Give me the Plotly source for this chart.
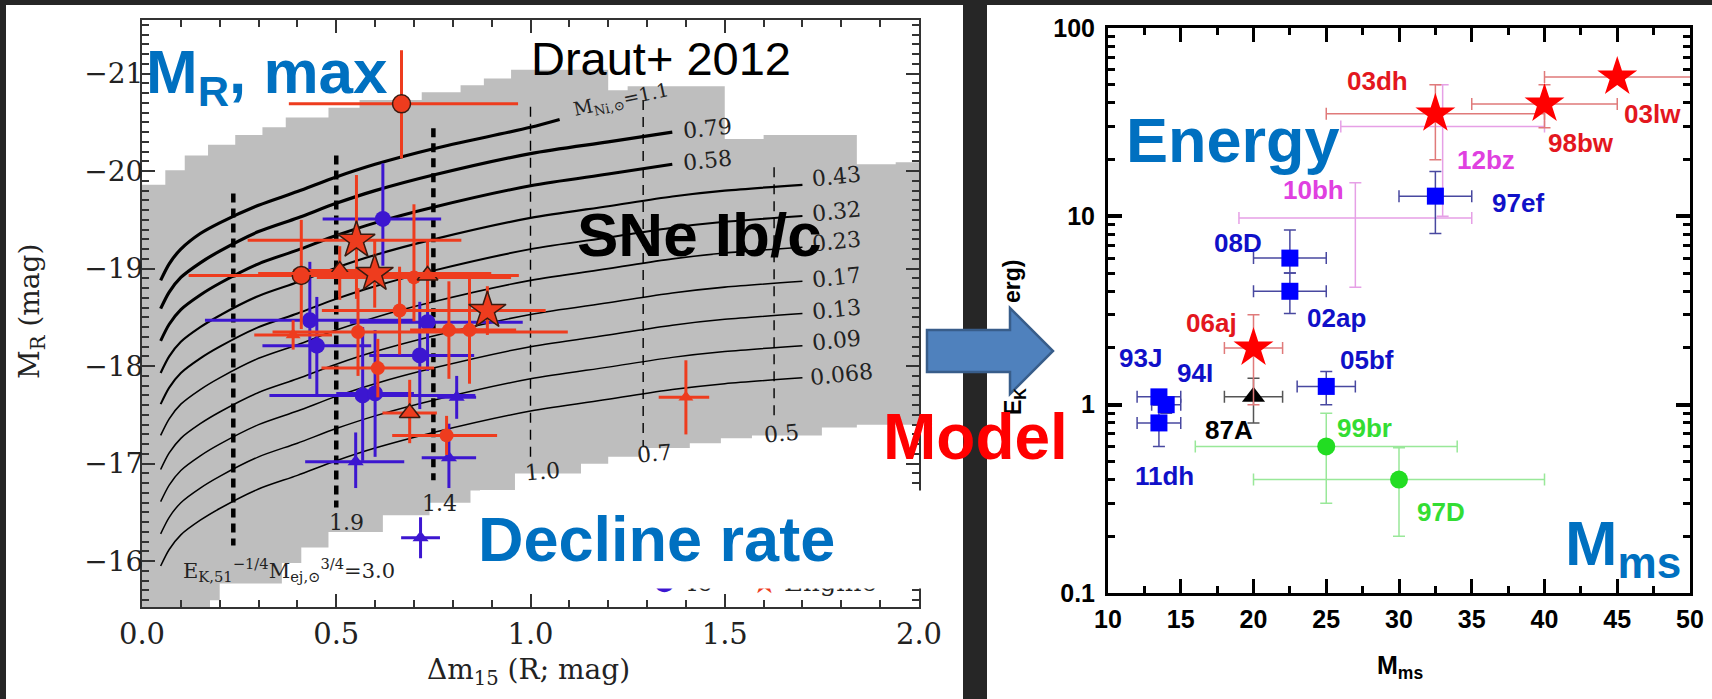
import numpy as np
import plotly.graph_objects as go

W, H = 1712, 699
SERIF = "DejaVu Serif"
SANS = "Liberation Sans"


def px(x):
    return x / W


def py(y):
    return 1 - y / H


# ================= LEFT PANEL : M_R,max vs decline rate =================
# grey allowed region (staircase edges)
grey_top_x = [0.00, 0.06, 0.11, 0.17, 0.24, 0.31, 0.37, 0.48, 0.56, 0.72, 0.82, 0.88, 0.95, 1.20, 1.25, 1.50, 1.60, 1.84, 1.94]
grey_top_y = [-19.86, -20.01, -20.16, -20.27, -20.37, -20.45, -20.55, -20.65, -20.73, -20.81, -20.88, -20.95, -21.04, -20.83, -20.87, -20.33, -20.37, -20.07, -20.09]
grey_bot_x = [0.00, 0.175, 0.20, 0.36, 0.41, 0.48, 0.62, 0.74, 0.87, 0.96, 1.13, 1.20, 1.28, 1.41, 1.49, 1.57, 1.75, 1.84]
grey_bot_y = [-15.45, -15.60, -15.77, -15.98, -16.14, -16.30, -16.47, -16.60, -16.73, -16.90, -17.00, -17.07, -17.16, -17.21, -17.26, -17.29, -17.37, -17.40]

# Ni-mass model curves
ni_labels = ["1.1", "0.79", "0.58", "0.43", "0.32", "0.23", "0.17", "0.13", "0.09", "0.068"]
curve_x_full = [0.048, 0.07, 0.10, 0.15, 0.20, 0.30, 0.40, 0.50, 0.60, 0.75, 1.00, 1.20, 1.365, 1.50, 1.70]
curve_x_mid = [0.048, 0.07, 0.10, 0.15, 0.20, 0.30, 0.40, 0.50, 0.60, 0.75, 1.00, 1.20, 1.365]
curve_x_short = [0.048, 0.07, 0.10, 0.15, 0.20, 0.30, 0.40, 0.50, 0.60, 0.75, 1.00, 1.075]
ni_1_10 = [-18.88, -19.05, -19.20, -19.36, -19.47, -19.65, -19.79, -19.94, -20.07, -20.23, -20.45, -20.53]
ni_0_79 = [-18.59, -18.76, -18.91, -19.06, -19.18, -19.38, -19.52, -19.67, -19.80, -19.96, -20.18, -20.30, -20.40]
ni_0_58 = [-18.26, -18.43, -18.58, -18.73, -18.85, -19.05, -19.19, -19.34, -19.47, -19.63, -19.85, -19.97, -20.07]
ni_0_43 = [-17.93, -18.10, -18.25, -18.40, -18.52, -18.72, -18.86, -19.01, -19.14, -19.30, -19.52, -19.64, -19.74, -19.80, -19.86]
ni_0_32 = [-17.61, -17.78, -17.93, -18.08, -18.20, -18.40, -18.54, -18.69, -18.82, -18.98, -19.20, -19.32, -19.42, -19.48, -19.54]
ni_0_23 = [-17.29, -17.46, -17.61, -17.76, -17.88, -18.08, -18.22, -18.37, -18.50, -18.66, -18.88, -19.00, -19.10, -19.16, -19.22]
ni_0_17 = [-16.94, -17.11, -17.26, -17.41, -17.53, -17.73, -17.87, -18.02, -18.15, -18.31, -18.53, -18.65, -18.75, -18.81, -18.87]
ni_0_13 = [-16.61, -16.78, -16.93, -17.08, -17.20, -17.40, -17.54, -17.69, -17.82, -17.98, -18.20, -18.32, -18.42, -18.48, -18.54]
ni_0_09 = [-16.28, -16.45, -16.60, -16.75, -16.87, -17.07, -17.21, -17.36, -17.49, -17.65, -17.87, -17.99, -18.09, -18.15, -18.21]
ni_0_068 = [-15.95, -16.12, -16.27, -16.42, -16.54, -16.74, -16.88, -17.03, -17.16, -17.32, -17.54, -17.66, -17.76, -17.82, -17.88]
ni_label_x = [1.234, 1.455, 1.455, 1.787, 1.787, 1.787, 1.787, 1.787, 1.787, 1.80]
ni_label_y = [-20.72, -20.44, -20.11, -19.94, -19.59, -19.28, -18.91, -18.58, -18.26, -17.91]

# E_K^-1/4 M_ej^3/4 iso-lines (dashed)
ek_labels = ["3.0", "1.9", "1.4", "1.0", "0.7", "0.5"]
ek_x = [0.235, 0.50, 0.75, 1.00, 1.29, 1.627]
ek_top = [-19.77, -20.16, -20.44, -20.66, -20.73, -20.04]
ek_bot = [-16.16, -16.55, -16.83, -17.02, -17.17, -17.47]
ek_label_x = [0.378, 0.527, 0.766, 1.03, 1.32, 1.645]
ek_label_y = [-15.91, -16.40, -16.59, -16.92, -17.10, -17.31]

# observed SNe (red = Ic-BL/engine, blue = Ib/Ic)
rc_x = [0.668, 0.41]
rc_y = [-20.69, -18.93]
rc_xm = [0.29, 0.29]
rc_xp = [0.30, 0.56]
rc_ym = [0.55, 0.57]
rc_yp = [0.56, 0.55]

rs_x = [0.552, 0.599, 0.889]
rs_y = [-19.29, -18.95, -18.57]
rs_xm = [0.28, 0.30, 0.15]
rs_xp = [0.27, 0.30, 0.15]
rs_ym = [0.67, 0.35, 0.25]
rs_yp = [0.60, 0.35, 0.25]

rt_x = [0.509, 0.735, 0.689]
rt_y = [-18.98, -18.93, -17.52]
rt_xm = [0.12, 0.20, 0.07]
rt_xp = [0.12, 0.23, 0.07]
rt_ym = [0.25, 0.36, 0.34]
rt_yp = [0.30, 0.36, 0.31]

rsc_x = [0.70, 0.663, 0.556, 0.79, 0.843, 0.607, 0.784]
rsc_y = [-18.91, -18.57, -18.35, -18.37, -18.37, -17.98, -17.29]
rsc_xm = [0.25, 0.20, 0.22, 0.10, 0.12, 0.145, 0.14]
rsc_xp = [0.25, 0.20, 0.54, 0.10, 0.12, 0.145, 0.13]
rsc_ym = [0.75, 0.45, 0.45, 0.50, 0.55, 0.30, 0.20]
rsc_yp = [0.45, 0.45, 0.45, 0.50, 0.55, 0.30, 0.20]

rst_x = [0.389, 1.40]
rst_y = [-18.32, -17.68]
rst_xm = [0.10, 0.07]
rst_xp = [0.10, 0.06]
rst_ym = [0.15, 0.38]
rst_yp = [0.15, 0.38]

bc_x = [0.62, 0.432, 0.735, 0.45, 0.715, 0.568, 0.60]
bc_y = [-19.51, -18.47, -18.45, -18.21, -18.11, -17.70, -17.72]
bc_xm = [0.155, 0.27, 0.20, 0.14, 0.13, 0.24, 0.10]
bc_xp = [0.15, 0.27, 0.245, 0.14, 0.14, 0.29, 0.10]
bc_ym = [0.57, 0.60, 0.50, 0.50, 0.55, 0.70, 0.65]
bc_yp = [0.48, 0.60, 0.50, 0.50, 0.55, 0.67, 0.65]

bt_x = [0.81, 0.55, 0.79, 0.717]
bt_y = [-17.68, -17.02, -17.06, -16.24]
bt_xm = [0.05, 0.13, 0.07, 0.05]
bt_xp = [0.05, 0.125, 0.07, 0.05]
bt_ym = [0.22, 0.30, 0.35, 0.21]
bt_yp = [0.22, 0.27, 0.31, 0.21]

# ================= RIGHT PANEL : E_K vs M_ms =================
rstar_names = ["03dh", "98bw", "03lw", "06aj"]
rstar_m = [32.5, 40.0, 45.0, 20.0]
rstar_e = [35.0, 39.5, 55.0, 2.0]
rstar_m_lo = [7.5, 5.0, 5.0, 2.0]
rstar_m_hi = [7.5, 5.0, 10.0, 2.0]
rstar_e_lo = [15.0, 10.0, 0.0, 1.0]
rstar_e_hi = [15.0, 10.5, 0.0, 1.0]

ostar_names = ["12bz", "10bh"]
ostar_m = [33.0, 27.0]
ostar_e = [30.0, 9.8]
ostar_m_lo = [7.0, 8.0]
ostar_m_hi = [7.0, 8.0]
ostar_e_lo = [20.0, 5.6]
ostar_e_hi = [20.0, 5.3]

bsq_names = ["97ef", "08D", "02ap", "05bf", "93J", "94I", "11dh"]
bsq_m = [32.5, 22.5, 22.5, 25.0, 13.5, 14.0, 13.5]
bsq_e = [12.8, 6.0, 4.0, 1.25, 1.1, 1.0, 0.8]
bsq_m_lo = [2.5, 2.5, 2.5, 2.0, 1.5, 1.0, 1.5]
bsq_m_hi = [2.5, 2.5, 2.5, 2.0, 1.5, 1.0, 1.5]
bsq_e_lo = [4.7, 1.0, 0.95, 0.25, 0.1, 0.1, 0.2]
bsq_e_hi = [4.5, 2.45, 1.0, 0.25, 0.1, 0.1, 0.2]

btri_names = ["87A"]
btri_m = [20.0]
btri_e = [1.1]
btri_m_err = [2.0]
btri_e_lo = [0.30]
btri_e_hi = [0.28]

gc_names = ["99br", "97D"]
gc_m = [25.0, 30.0]
gc_e = [0.6, 0.4]
gc_m_err = [9.0, 10.0]
gc_e_lo = [0.30, 0.20]
gc_e_hi = [0.30, 0.19]

lab_names = ["03dh", "12bz", "98bw", "03lw", "97ef", "10bh", "08D", "02ap", "06aj", "87A", "05bf", "93J", "94I", "11dh", "99br", "97D"]
lab_m = [28.5, 36.0, 42.5, 47.4, 38.2, 24.1, 18.9, 25.7, 17.1, 18.3, 27.8, 12.2, 16.0, 13.9, 27.6, 32.9]
lab_e = [52.0, 20.0, 24.5, 35.0, 11.7, 13.8, 7.2, 2.87, 2.7, 0.73, 1.73, 1.76, 1.47, 0.42, 0.75, 0.27]
RED_T, BLU_T, MAG_T, GRN_T = "#E3171E", "#1010C8", "#E040E0", "#33DD33"
lab_col = [RED_T, MAG_T, RED_T, RED_T, BLU_T, MAG_T, BLU_T, BLU_T, RED_T, "black", BLU_T, BLU_T, BLU_T, BLU_T, GRN_T, GRN_T]

# ================= FIGURE =================
RED = "#EE3C1E"
BLUE = "#3C16D0"
fig = go.Figure()

# grey region polygon
poly_x, poly_y = [], []
for i in range(len(grey_top_x)):
    x1 = grey_top_x[i + 1] if i + 1 < len(grey_top_x) else 2.0
    poly_x += [grey_top_x[i], x1]
    poly_y += [grey_top_y[i], grey_top_y[i]]
for i in reversed(range(len(grey_bot_x))):
    x1 = grey_bot_x[i + 1] if i + 1 < len(grey_bot_x) else 2.0
    poly_x += [x1, grey_bot_x[i]]
    poly_y += [grey_bot_y[i], grey_bot_y[i]]
fig.add_trace(go.Scatter(x=poly_x, y=poly_y, fill="toself", fillcolor="#BEBEBE", mode="lines",
                         line=dict(width=0, color="#BEBEBE"), hoverinfo="skip", xaxis="x", yaxis="y"))

curves = [(curve_x_short, ni_1_10, 3.2), (curve_x_mid, ni_0_79, 3.2), (curve_x_mid, ni_0_58, 3.0),
          (curve_x_full, ni_0_43, 2.2), (curve_x_full, ni_0_32, 2.0), (curve_x_full, ni_0_23, 1.6),
          (curve_x_full, ni_0_17, 1.6), (curve_x_full, ni_0_13, 1.5), (curve_x_full, ni_0_09, 1.5),
          (curve_x_full, ni_0_068, 1.5)]
for cx, cy, lw in curves:
    fig.add_trace(go.Scatter(x=cx, y=cy, mode="lines", line=dict(color="black", width=lw, shape="spline", smoothing=0.8),
                             hoverinfo="skip", xaxis="x", yaxis="y"))

for i in range(len(ek_x)):
    thick = i < 3
    fig.add_trace(go.Scatter(x=[ek_x[i], ek_x[i]], y=[ek_top[i], ek_bot[i]], mode="lines",
                             line=dict(color="black", width=4.5 if thick else 1.4, dash="9px,6px" if thick else "10px,7px"),
                             hoverinfo="skip", xaxis="x", yaxis="y"))


def left_pts(x, y, xm, xp, ym, yp, color, symbol, size, edge=None):
    fig.add_trace(go.Scatter(
        x=x, y=y, mode="markers", xaxis="x", yaxis="y",
        marker=dict(color=color, symbol=symbol, size=size,
                    line=dict(color=edge if edge else color, width=1.5 if edge else 0)),
        error_x=dict(type="data", symmetric=False, array=xp, arrayminus=xm, color=color, thickness=3, width=0),
        error_y=dict(type="data", symmetric=False, array=yp, arrayminus=ym, color=color, thickness=3, width=0)))


left_pts(bc_x, bc_y, bc_xm, bc_xp, bc_ym, bc_yp, BLUE, "circle", 16)
left_pts(bt_x, bt_y, bt_xm, bt_xp, bt_ym, bt_yp, BLUE, "triangle-up", 14)
left_pts(rsc_x, rsc_y, rsc_xm, rsc_xp, rsc_ym, rsc_yp, RED, "circle", 14)
left_pts(rst_x, rst_y, rst_xm, rst_xp, rst_ym, rst_yp, RED, "triangle-up", 13)
left_pts(rt_x, rt_y, rt_xm, rt_xp, rt_ym, rt_yp, RED, "triangle-up", 18, edge="#3a1a10")
left_pts(rc_x, rc_y, rc_xm, rc_xp, rc_ym, rc_yp, RED, "circle", 18, edge="#3a1a10")
left_pts(rs_x, rs_y, rs_xm, rs_xp, rs_ym, rs_yp, RED, "star", 28, edge="#3a1a10")


def right_pts(m, e, mlo, mhi, elo, ehi, color, errcol, symbol, size, lw=0):
    fig.add_trace(go.Scatter(
        x=m, y=e, mode="markers", xaxis="x2", yaxis="y2",
        marker=dict(color=color if lw == 0 else "rgba(0,0,0,0)", symbol=symbol, size=size,
                    line=dict(color=color, width=lw)),
        error_x=dict(type="data", symmetric=False, array=mhi, arrayminus=mlo, color=errcol, thickness=1.5, width=6),
        error_y=dict(type="data", symmetric=False, array=ehi, arrayminus=elo, color=errcol, thickness=1.5, width=6)))


right_pts(gc_m, gc_e, gc_m_err, gc_m_err, gc_e_lo, gc_e_hi, "#22DD22", "#99E899", "circle", 18)
right_pts(ostar_m, ostar_e, ostar_m_lo, ostar_m_hi, ostar_e_lo, ostar_e_hi, "#D438D4", "#E6A0E6", "star-open", 30, lw=2.5)
right_pts(bsq_m, bsq_e, bsq_m_lo, bsq_m_hi, bsq_e_lo, bsq_e_hi, "#0000FF", "#4848A0", "square", 17)
right_pts(btri_m, btri_e, btri_m_err, btri_m_err, btri_e_lo, btri_e_hi, "black", "#555555", "triangle-up", 20)
right_pts(rstar_m, rstar_e, rstar_m_lo, rstar_m_hi, rstar_e_lo, rstar_e_hi, "#FF0000", "#E07A7A", "star", 30)

# ---------------- annotations ----------------
ann = []


def txt(text, x, y, size, color="black", family=SANS, angle=0, xanchor="center", yanchor="middle",
        xref="paper", yref="paper", **kw):
    d = dict(text=text, x=x, y=y, xref=xref, yref=yref, showarrow=False, textangle=angle,
             xanchor=xanchor, yanchor=yanchor, font=dict(family=family, size=size, color=color))
    d.update(kw)
    ann.append(d)


# legend fragments hidden behind the "Decline rate" box
txt("●", px(664), py(580), 26, BLUE, SERIF)
txt("Ic", px(699), py(582), 26, "#222", SERIF)
txt("★", px(764), py(582), 30, RED, SERIF)
txt("Engine", px(830), py(582), 26, "#222", SERIF)
# white box
txt(".", px(470), py(490), 2, "white", xanchor="left", yanchor="top", width=460, height=97,
    bgcolor="white", borderpad=0)

# left-panel curve labels
for i, lab in enumerate(ni_labels):
    if i == 0:
        txt("M<sub>Ni,⊙</sub>=1.1", ni_label_x[i], ni_label_y[i], 19, "#222", SERIF, angle=-12, xref="x", yref="y")
    else:
        txt(lab, ni_label_x[i], ni_label_y[i], 22, "#222", SERIF, angle=-6, xref="x", yref="y")
for i, lab in enumerate(ek_labels):
    if i == 0:
        txt("E<sub>K,51</sub><sup>−1/4</sup>M<sub>ej,⊙</sub><sup>3/4</sup>=3.0", ek_label_x[i], ek_label_y[i], 21,
            "#222", SERIF, xref="x", yref="y")
    else:
        txt(lab, ek_label_x[i], ek_label_y[i], 22, "#222", SERIF, angle=(-5 if i >= 3 else 0), xref="x", yref="y")

# left axis titles
txt("M<sub>R</sub> (mag)", px(31), py(312), 28, "#222", SERIF, angle=-90)
txt("Δm<sub>15</sub> (R; mag)", px(528), py(671), 28, "#222", SERIF)

# right panel labels
for n, m, e, c in zip(lab_names, lab_m, lab_e, lab_col):
    txt("<b>" + n + "</b>", m, float(np.log10(e)), 26, c, SANS, xref="x2", yref="y2")

txt("<b>erg)</b>", px(1012), py(282), 23, "black", SANS, angle=-90)
txt("<b>E<sub>K</sub></b>", px(1014), py(402), 23, "black", SANS, angle=-90)
txt("<b>M<sub>ms</sub></b>", px(1400), py(667), 25, "black", SANS)

# big slide texts
BLUE_T = "#0070C0"
txt("<b>M<sub>R</sub>, max</b>", px(267), py(76), 62, BLUE_T)
txt("Draut+ 2012", px(661), py(58), 47, "black")
txt("<b>SNe Ib/c</b>", px(699), py(234), 62, "black")
txt("<b>Decline rate</b>", px(656), py(539), 63, BLUE_T)
txt("<b>Energy</b>", px(1233), py(140), 63, BLUE_T)
txt("<b>Model</b>", px(975), py(437), 64, "#FF0000")
txt("<b>M<sub>ms</sub></b>", px(1623), py(547), 63, BLUE_T)

# ---------------- shapes ----------------
arrow_pts = [(927, 330), (1010, 330), (1010, 308), (1053, 351), (1010, 394), (1010, 372), (927, 372)]
arrow_path = "M " + " L ".join(f"{px(a):.5f},{py(b):.5f}" for a, b in arrow_pts) + " Z"
shapes = [
    dict(type="rect", xref="paper", yref="paper", x0=px(6), x1=px(963), y0=0, y1=py(5),
         fillcolor="white", line=dict(width=0), layer="below"),
    dict(type="rect", xref="paper", yref="paper", x0=px(987), x1=1, y0=0, y1=py(5),
         fillcolor="white", line=dict(width=0), layer="below"),
    dict(type="path", xref="paper", yref="paper", path=arrow_path, fillcolor="#4F81BD",
         line=dict(color="#385D8A", width=2.5), layer="above"),
]

log_minor = [k * 10.0 ** p for p in (-1, 0, 1) for k in range(2, 10)]

fig.update_layout(
    width=W, height=H, autosize=False, margin=dict(l=0, r=0, t=0, b=0, pad=0),
    paper_bgcolor="#262626", plot_bgcolor="white", showlegend=False,
    xaxis=dict(domain=[px(142), px(919)], range=[0, 2], anchor="y", automargin=False,
               tickmode="array", tickvals=[0, 0.5, 1.0, 1.5, 2.0], ticktext=["0.0", "0.5", "1.0", "1.5", "2.0"],
               ticks="inside", ticklen=13, tickwidth=2, tickcolor="#333",
               minor=dict(ticks="inside", ticklen=7, tickwidth=1.5, tickcolor="#333", tickmode="linear",
                          tick0=0, dtick=0.1, showgrid=False),
               showline=True, linecolor="#333", linewidth=2, mirror="ticks", showgrid=False, zeroline=False,
               tickfont=dict(family=SERIF, size=29, color="#222"), ticklabelstandoff=0),
    yaxis=dict(domain=[py(607), py(20)], range=[-15.53, -21.55], anchor="x", automargin=False,
               tickmode="array", tickvals=[-21, -20, -19, -18, -17, -16],
               ticktext=["−21", "−20", "−19", "−18", "−17", "−16"],
               ticks="inside", ticklen=13, tickwidth=2, tickcolor="#333",
               minor=dict(ticks="inside", ticklen=7, tickwidth=1.5, tickcolor="#333", tickmode="linear",
                          tick0=-21, dtick=0.1, showgrid=False),
               showline=True, linecolor="#333", linewidth=2, mirror="ticks", showgrid=False, zeroline=False,
               tickfont=dict(family=SERIF, size=28, color="#222"), ticklabelstandoff=-9),
    xaxis2=dict(domain=[px(1108), px(1690)], range=[10, 50], anchor="y2", automargin=False,
                tickmode="linear", tick0=10, dtick=5,
                ticks="inside", ticklen=14, tickwidth=3, tickcolor="black",
                minor=dict(ticks="inside", ticklen=7, tickwidth=3, tickcolor="black", tickmode="linear",
                           tick0=10, dtick=2.5, showgrid=False),
                showline=True, linecolor="black", linewidth=3, mirror="ticks", showgrid=False, zeroline=False,
                tickfont=dict(family=SANS, size=25, color="black", weight="bold"), ticklabelstandoff=2),
    yaxis2=dict(domain=[py(593), py(28)], type="log", range=[-1, 2], anchor="x2", automargin=False,
                tickmode="array", tickvals=[0.1, 1, 10, 100], ticktext=["0.1", "1", "10", "100"],
                ticks="inside", ticklen=14, tickwidth=4, tickcolor="black",
                minor=dict(ticks="inside", ticklen=7, tickwidth=3, tickcolor="black", tickvals=log_minor,
                           showgrid=False),
                showline=True, linecolor="black", linewidth=3, mirror="ticks", showgrid=False, zeroline=False,
                tickfont=dict(family=SANS, size=25, color="black", weight="bold"), ticklabelstandoff=5),
    shapes=shapes, annotations=ann,
)

fig.write_html("out.html")
